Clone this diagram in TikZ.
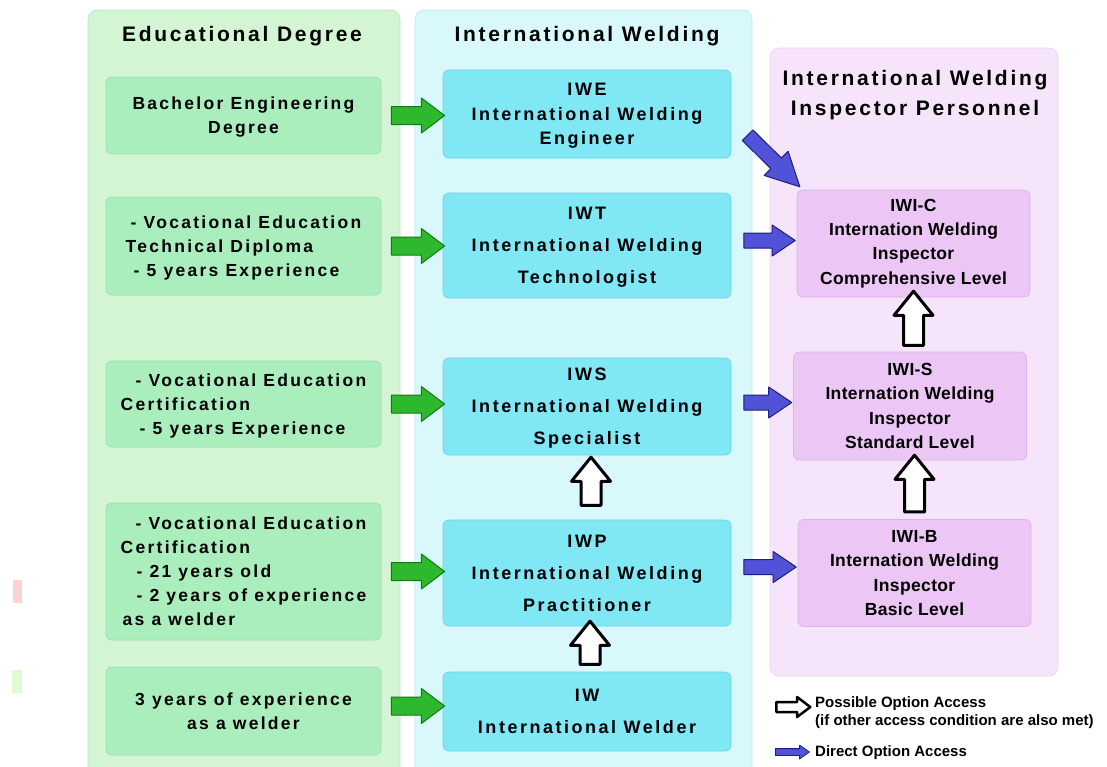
\documentclass[tikz,border=0pt]{standalone}
\usepackage{fontspec}
\setmainfont{Liberation Sans}
\newfontfamily\widefont[LetterSpace=13]{Liberation Sans}
\newfontfamily\widerfont[LetterSpace=14]{Liberation Sans}
\newfontfamily\narrowfont[LetterSpace=2]{Liberation Sans}
\usetikzlibrary{calc,shapes.arrows}

\definecolor{edpanel}{HTML}{D3F5D3}
\definecolor{edfill}{HTML}{AAEEBE}
\definecolor{edline}{HTML}{9EDDB2}
\definecolor{weldpanel}{HTML}{D9F8FC}
\definecolor{weldfill}{HTML}{80E7F5}
\definecolor{weldline}{HTML}{6FD3E2}
\definecolor{insppanel}{HTML}{F6E5FA}
\definecolor{inspfill}{HTML}{ECC6F5}
\definecolor{inspline}{HTML}{DDB2E6}
\definecolor{arrgreen}{HTML}{2DB82D}
\definecolor{arrgreenline}{HTML}{137A13}
\definecolor{arrblue}{HTML}{5252D8}
\definecolor{arrblueline}{HTML}{1E1E80}
\definecolor{markpink}{HTML}{FCD4D6}
\definecolor{markgreen}{HTML}{E2FAD2}

\begin{document}
\begin{tikzpicture}[x=1pt,y=-1pt]
    \tikzstyle{panel}=[rounded corners=9pt, line width=0.6pt]
    \tikzstyle{box}=[rectangle, rounded corners=6pt, line width=0.7pt, inner sep=0pt, align=center]
    \tikzstyle{edbox}=[box, fill=edfill, draw=edline, minimum width=275pt, text depth=0pt, font=\widefont\bfseries\fontsize{17.5}{24}\selectfont]
    \tikzstyle{weldbox}=[box, fill=weldfill, draw=weldline, minimum width=288pt, text depth=0pt, font=\widerfont\bfseries\fontsize{18}{32}\selectfont]
    \tikzstyle{inspbox}=[box, fill=inspfill, draw=inspline, minimum width=233pt, font=\narrowfont\bfseries\fontsize{17.5}{24.3}\selectfont]
    \tikzstyle{title}=[align=center, font=\widefont\bfseries\fontsize{21}{30}\selectfont]
    \tikzstyle{legendtext}=[align=left, anchor=west, inner sep=0pt, font=\bfseries\fontsize{15}{18}\selectfont]
    \tikzset{blockto/.style 2 args={to path={let \p1=($(\tikztostart)!#1!(\tikztotarget)$),
        \p2=($(\tikztotarget)!#1!(\tikztostart)$), \n1={veclen(\x2-\x1,\y2-\y1)}, \n2={atan2(\y2-\y1,\x2-\x1)} in
        node[single arrow, inner xsep=0pt, line join=round, #2, minimum height=\n1, rotate=\n2] at ($(\p1)!.5!(\p2)$) {}}}}
    \tikzstyle{garrow}=[blockto={4pt}{fill=arrgreen, draw=arrgreenline, line width=1pt, inner ysep=8.5pt, single arrow head extend=8.5pt, single arrow tip angle=74}]
    \tikzstyle{barrow}=[blockto={7pt}{fill=arrblue, draw=arrblueline, line width=1pt, inner ysep=7pt, single arrow head extend=8pt, single arrow tip angle=68}]
    \tikzstyle{dbarrow}=[blockto={0pt}{fill=arrblue, draw=arrblueline, line width=1pt, inner ysep=7pt, single arrow head extend=9.5pt, single arrow tip angle=54}]
    \tikzset{harrow/.style={blockto={#1}{fill=white, draw=black, line width=3pt, inner ysep=8.5pt, single arrow head extend=9.5pt, single arrow tip angle=78}}}
    \tikzstyle{lgharrow}=[blockto={0pt}{fill=white, draw=black, line width=2.5pt, inner ysep=3.75pt, single arrow head extend=5pt, single arrow tip angle=74}]
    \tikzstyle{lgbarrow}=[blockto={0pt}{fill=arrblue, draw=arrblueline, line width=0.8pt, inner ysep=3pt, single arrow head extend=3.5pt, single arrow tip angle=70}]

\useasboundingbox (0,0) rectangle (1107,766);
\fill[white] (0,0) rectangle (1107,766);

% columns
\filldraw[panel, fill=edpanel, draw=edline!60!edpanel] (88,10) rectangle (400,790);
\filldraw[panel, fill=weldpanel, draw=weldline!35!weldpanel] (415,10) rectangle (752,790);
\filldraw[panel, fill=insppanel, draw=inspline!40!insppanel] (770,48) rectangle (1058,676);
\fill[markpink] (13,580) rectangle (22,603);
\fill[markgreen] (12,670) rectangle (22,693);

\node[title] (edtitle) at (242,36) {Educational Degree};
\node[title] (weldtitle) at (587,36) {International Welding};
\node[title] (insptitle) at (915,95) {International Welding\\Inspector Personnel};

% educational degree
\node[edbox, minimum height=77pt] (ed1) at (243.5,115.5) {Bachelor Engineering\\Degree};
\node[edbox, minimum height=98pt, align=left] (ed2) at (243.5,246) {\hspace*{5pt}- Vocational Education\\Technical Diploma\\\hspace*{8pt}- 5 years Experience};
\node[edbox, minimum height=86pt, align=left] (ed3) at (243.5,404) {\hspace*{15pt}- Vocational Education\\Certification\\\hspace*{19pt}- 5 years Experience};
\node[edbox, minimum height=137pt, align=left] (ed4) at (243.5,571.5) {\hspace*{15pt}- Vocational Education\\Certification\\\hspace*{16pt}- 21 years old\\\hspace*{16pt}- 2 years of experience\\\hspace*{2pt}as a welder};
\node[edbox, minimum height=88pt] (ed5) at (243.5,711) {3 years of experience\\as a welder};

% international welding
\node[weldbox, minimum height=88pt, font=\widerfont\bfseries\fontsize{18}{24.5}\selectfont] (iwe) at (587,114) {IWE\\International Welding\\Engineer};
\node[weldbox, minimum height=105pt] (iwt) at (587,245.5) {IWT\\International Welding\\Technologist};
\node[weldbox, minimum height=97pt] (iws) at (587,406.5) {IWS\\International Welding\\Specialist};
\node[weldbox, minimum height=106pt] (iwp) at (587,573) {IWP\\International Welding\\Practitioner};
\node[weldbox, minimum height=79pt] (iw) at (587,711.5) {IW\\International Welder};

% inspector personnel
\node[inspbox, minimum height=107pt] (iwic) at (913.5,243.5) {IWI-C\\Internation Welding\\Inspector\\Comprehensive Level};
\node[inspbox, minimum height=108pt] (iwis) at (910,406) {IWI-S\\Internation Welding\\Inspector\\Standard Level};
\node[inspbox, minimum height=107pt] (iwib) at (914.5,573) {IWI-B\\Internation Welding\\Inspector\\Basic Level};

% green arrows
\draw[garrow] (ed1.east) to (ed1.east -| iwe.west);
\draw[garrow] (ed2.east) to (ed2.east -| iwt.west);
\draw[garrow] (ed3.east) to (ed3.east -| iws.west);
\draw[garrow] (ed4.east) to (ed4.east -| iwp.west);
\draw[garrow] ($(ed5.east)+(0,-5)$) to ($(ed5.east -| iw.west)+(0,-5)$);

% blue arrows
\coordinate (dtail) at ($(iwe.east)+(11,16)$);
\coordinate (dtip) at ($(iwic.north west)+(-2,-8)$);
\draw[dbarrow] (dtail) to (dtip);
\draw[barrow] ($(iwt.east)+(0,-5)$) to ($(iwt.east -| iwic.west)+(0,-5)$);
\draw[barrow] ($(iws.east)+(0,-4)$) to ($(iws.east -| iwis.west)+(0,-4)$);
\draw[barrow] ($(iwp.east)+(0,-6)$) to ($(iwp.east -| iwib.west)+(0,-6)$);

% possible routes
\draw[harrow=8pt] ($(iwp.north)+(4,0)$) to ($(iws.south)+(4,0)$);
\draw[harrow=1pt] ($(iw.north)+(3,0)$) to ($(iwp.south)+(3,0)$);
\draw[harrow=0pt] (iwis.north -| iwic.south) to (iwic.south);
\draw[harrow=1pt] (iwib.north) to (iwib.north |- iwis.south);

% legend
\coordinate (lgha) at (773,707);
\coordinate (lghb) at (807,707);
\coordinate (lgba) at (773,752);
\coordinate (lgbb) at (807,752);
\draw[lgharrow] (lgha) to (lghb);
\draw[lgbarrow] (lgba) to (lgbb);
\node[legendtext] (lgtext1) at (815,713) {Possible Option Access\\(if other access condition are also met)};
\node[legendtext] (lgtext2) at (815,753) {Direct Option Access};
\end{tikzpicture}
\end{document}
